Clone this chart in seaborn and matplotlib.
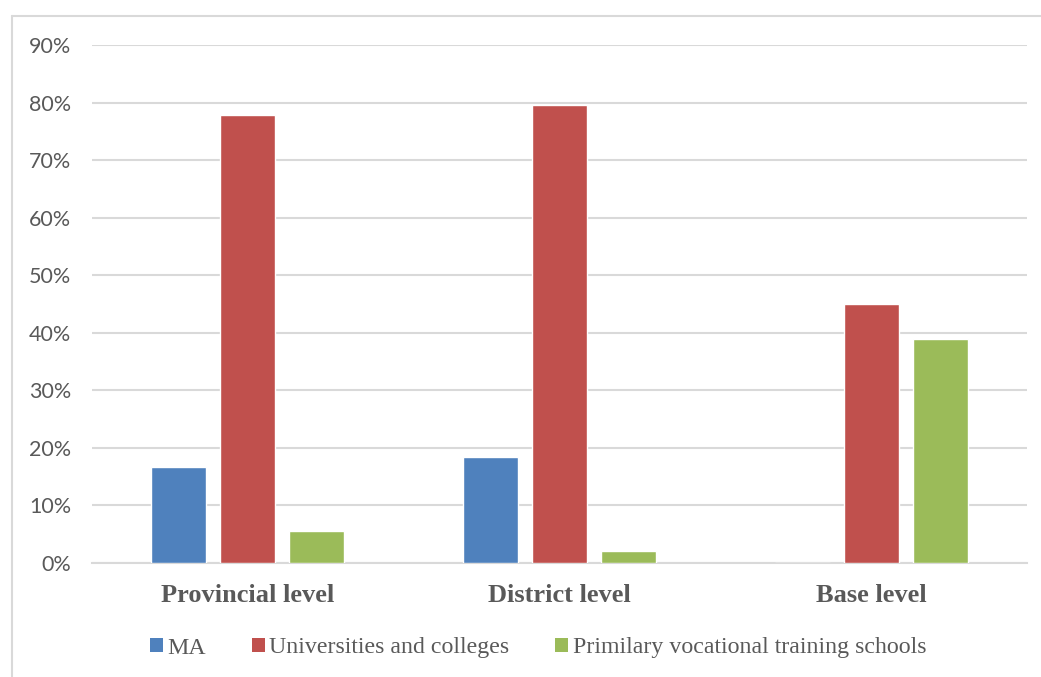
import matplotlib
matplotlib.use("Agg")
import matplotlib.pyplot as plt
from matplotlib.lines import Line2D
from matplotlib.patches import Patch
import seaborn as sns
import pandas as pd

# Share of staff by training source at each administrative level (%)
levels = ["Provincial level", "District level", "Base level"]
series = ["MA", "Universities and colleges", "Primilary vocational training schools"]
ma = [16.7, 18.4, 0.0]
universities = [77.8, 79.5, 45.0]
vocational = [5.6, 2.1, 38.9]
y_ticks = [0, 10, 20, 30, 40, 50, 60, 70, 80, 90]

colors = ["#4F81BD", "#C0504D", "#9BBB59"]
grid_color = "#D9D9D9"
text_color = "#595959"

df = pd.DataFrame({
    "level": levels * 3,
    "source": [series[0]] * 3 + [series[1]] * 3 + [series[2]] * 3,
    "share": ma + universities + vocational,
})

sns.set_theme(style="white")
W, H = 1041, 677
fig = plt.figure(figsize=(W / 100, H / 100), dpi=100)
ax = fig.add_axes([92 / W, 1 - 563 / H, (1027 - 92) / W, (563 - 45) / H])

sns.barplot(data=df, x="level", y="share", hue="source", order=levels,
            hue_order=series, palette=colors, width=0.664, gap=0.2,
            saturation=1, errorbar=None, ax=ax, legend=False, zorder=3)

ax.set_xlim(-0.5, 2.5)
ax.set_ylim(0, 90)
ax.set_yticks(y_ticks)
ax.set_yticklabels([f"{v}%" for v in y_ticks], fontsize=15.5,
                   fontfamily="Lato", color=text_color)
ax.set_xticks(range(len(levels)))
ax.set_xticklabels(levels, fontsize=19, fontfamily="Liberation Serif",
                   fontweight="bold", color=text_color)
ax.tick_params(axis="both", length=0)
ax.tick_params(axis="y", pad=15)
ax.tick_params(axis="x", pad=15)
ax.set_xlabel("")
ax.set_ylabel("")

ax.yaxis.grid(True, color=grid_color, linewidth=1.5, zorder=0)
ax.set_axisbelow(True)
for side in ["top", "right", "left"]:
    ax.spines[side].set_visible(False)
ax.spines["bottom"].set_color(grid_color)
ax.spines["bottom"].set_linewidth(1.5)

# Outer chart frame (top and left edges)
fy = 1 - 16 / H
fx = 12 / W
fig.add_artist(Line2D([fx, 1], [fy, fy], transform=fig.transFigure,
                      color=grid_color, linewidth=1.5))
fig.add_artist(Line2D([fx, fx], [0, fy], transform=fig.transFigure,
                      color=grid_color, linewidth=1.5))

handles = [Patch(facecolor=c, edgecolor="none") for c in colors]
leg = fig.legend(handles, series, loc="center", ncol=3,
                 bbox_to_anchor=(538 / W, 1 - 648 / H), frameon=False,
                 prop={"family": "Liberation Serif", "size": 17.2},
                 handlelength=0.55, handleheight=0.55, handletextpad=0.2,
                 columnspacing=1.9)
for t in leg.get_texts():
    t.set_color(text_color)

fig.savefig("out.png", dpi=100)
